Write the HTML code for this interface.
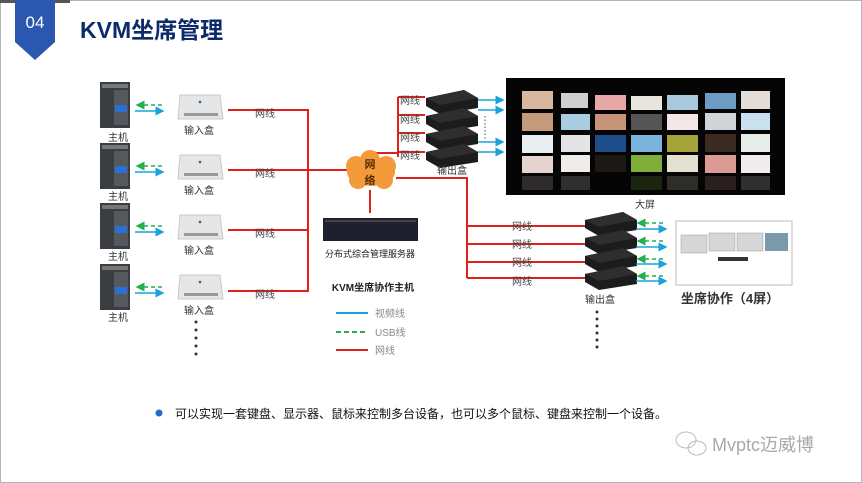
<!DOCTYPE html>
<html><head><meta charset="utf-8"><style>
html,body{margin:0;padding:0;background:#fff;width:862px;height:483px;overflow:hidden}
svg{display:block}
text{font-family:"Liberation Sans","Noto Sans CJK SC",sans-serif}
</style></head><body>
<svg width="862" height="483" viewBox="0 0 862 483" xmlns="http://www.w3.org/2000/svg">
<defs>
<marker id="ab" markerWidth="6" markerHeight="6" refX="5" refY="3" orient="auto"><path d="M0,0L6,3L0,6z" fill="#1aa3db"/></marker>
<marker id="ag" markerWidth="6" markerHeight="6" refX="1" refY="3" orient="auto"><path d="M6,0L0,3L6,6z" fill="#22b14c"/></marker>
<g id="host"><rect x="0" y="0" width="30" height="46" fill="#3a3d42"/><rect x="2" y="2" width="26" height="4" fill="#777"/><rect x="14" y="8" width="14" height="35" fill="#55595e"/><rect x="15" y="23" width="12" height="7" fill="#2a6fd6"/></g>
<g id="inbox"><path d="M2,2h40l3,24h-45z" fill="#e4e6e8" stroke="#c8cacc"/><rect x="6" y="20" width="34" height="3" fill="#999"/><circle cx="22" cy="9" r="1.3" fill="#555"/></g>
<g id="obox"><path d="M0,8L38,0L52,8L52,18L14,24L0,16z" fill="#1c1c1c"/><path d="M0,8L38,0L52,8L14,15z" fill="#2e2e2e"/></g>
</defs>
<rect x="0.5" y="0.5" width="861" height="482" fill="none" stroke="#b4b4b4"/>
<rect x="0" y="0" width="70" height="3" fill="#555"/>
<path d="M15,0H55V42L35,60L15,42z" fill="#2b57b0"/>
<text x="35" y="28" font-size="17" fill="#fff" text-anchor="middle">04</text>
<text x="80" y="38" font-size="23" font-weight="bold" fill="#0d2b6b">KVM坐席管理</text>

<g font-size="10" fill="#333" text-anchor="middle">
<use href="#host" x="100" y="82"/><use href="#host" x="100" y="143"/><use href="#host" x="100" y="203"/><use href="#host" x="100" y="264"/>
<text x="118" y="141">主机</text><text x="118" y="200">主机</text><text x="118" y="260">主机</text><text x="118" y="321">主机</text>
<use href="#inbox" x="178" y="93"/><use href="#inbox" x="178" y="153"/><use href="#inbox" x="178" y="213"/><use href="#inbox" x="178" y="273"/>
<text x="199" y="134">输入盒</text><text x="199" y="194">输入盒</text><text x="199" y="254">输入盒</text><text x="199" y="314">输入盒</text>
</g>
<g stroke-width="1.5">
<g stroke="#22b14c" stroke-dasharray="4,3" marker-start="url(#ag)"><line x1="137" y1="105" x2="163" y2="105"/><line x1="137" y1="166" x2="163" y2="166"/><line x1="137" y1="226" x2="163" y2="226"/><line x1="137" y1="287" x2="163" y2="287"/></g>
<g stroke="#1aa3db" marker-end="url(#ab)"><line x1="135" y1="111" x2="163" y2="111"/><line x1="135" y1="172" x2="163" y2="172"/><line x1="135" y1="232" x2="163" y2="232"/><line x1="135" y1="293" x2="163" y2="293"/></g>
</g>
<g fill="#333"><circle cx="196" cy="322" r="1.5"/><circle cx="196" cy="330" r="1.5"/><circle cx="196" cy="338" r="1.5"/><circle cx="196" cy="346" r="1.5"/><circle cx="196" cy="354" r="1.5"/></g>

<g stroke="#e0201b" stroke-width="2" fill="none">
<path d="M228,110H308V291H228M228,230H308M228,170H350"/>
<path d="M370,190V213M370,157V153H398M398,97V157M398,97H425M398,115H425M398,133H425M398,152H425"/>
<path d="M396,178H467V278M467,226H585M467,244H585M467,262H585M467,278H585"/>
<line x1="336" y1="350" x2="368" y2="350"/>
</g>
<g font-size="10" fill="#444">
<text x="255" y="117">网线</text><text x="255" y="177">网线</text><text x="255" y="237">网线</text><text x="255" y="298">网线</text>
<text x="400" y="104">网线</text><text x="400" y="123">网线</text><text x="400" y="141">网线</text><text x="400" y="159">网线</text>
<text x="512" y="230">网线</text><text x="512" y="248">网线</text><text x="512" y="266">网线</text><text x="512" y="285">网线</text>
</g>
<g fill="#f39a3a"><ellipse cx="371" cy="172" rx="24" ry="14"/><circle cx="356" cy="166" r="10"/><circle cx="370" cy="160" r="10"/><circle cx="386" cy="166" r="10"/><circle cx="358" cy="180" r="9"/><circle cx="384" cy="180" r="9"/></g>
<text x="370" y="168" font-size="11" font-weight="bold" fill="#5a2d00" text-anchor="middle">网</text>
<text x="370" y="184" font-size="11" font-weight="bold" fill="#5a2d00" text-anchor="middle">络</text>
<rect x="323" y="218" width="95" height="23" fill="#1e2030"/><rect x="325" y="220" width="91" height="2" fill="#444"/>
<text x="370" y="257" font-size="9" fill="#222" text-anchor="middle">分布式综合管理服务器</text>
<text x="373" y="291" font-size="10" font-weight="bold" fill="#222" text-anchor="middle">KVM坐席协作主机</text>
<line x1="336" y1="313" x2="368" y2="313" stroke="#1aa3db" stroke-width="2"/>
<line x1="336" y1="332" x2="368" y2="332" stroke="#22b14c" stroke-width="2" stroke-dasharray="5,3"/>
<g font-size="10" fill="#888"><text x="375" y="317">视频线</text><text x="375" y="336">USB线</text><text x="375" y="354">网线</text></g>

<use href="#obox" x="426" y="90"/><use href="#obox" x="426" y="108"/><use href="#obox" x="426" y="126"/><use href="#obox" x="426" y="144"/>
<text x="452" y="174" font-size="10" fill="#333" text-anchor="middle">输出盒</text>
<g stroke="#1aa3db" stroke-width="1.5" marker-end="url(#ab)"><line x1="478" y1="100" x2="503" y2="100"/><line x1="478" y1="110" x2="503" y2="110"/><line x1="478" y1="142" x2="503" y2="142"/><line x1="478" y1="152" x2="503" y2="152"/></g>
<line x1="485" y1="116" x2="485" y2="140" stroke="#555" stroke-dasharray="1.5,2"/>
<rect x="506" y="78" width="279" height="117" fill="#050505"/>
<g>
<rect x="522" y="91" width="31" height="18" fill="#d9b79e"/><rect x="561" y="93" width="27" height="15" fill="#cfcfcf"/><rect x="595" y="95" width="31" height="15" fill="#e8a7a7"/><rect x="631" y="96" width="31" height="14" fill="#e8e4de"/><rect x="667" y="95" width="31" height="15" fill="#a8c8dc"/><rect x="705" y="93" width="31" height="16" fill="#6e9bc4"/><rect x="741" y="91" width="29" height="18" fill="#e4dcd6"/>
<rect x="522" y="113" width="31" height="18" fill="#c49a7a"/><rect x="561" y="114" width="29" height="16" fill="#a9cde0"/><rect x="595" y="114" width="31" height="16" fill="#c89478"/><rect x="631" y="114" width="31" height="16" fill="#555"/><rect x="667" y="114" width="31" height="16" fill="#f2e6e6"/><rect x="705" y="113" width="31" height="17" fill="#d0d4d8"/><rect x="741" y="113" width="29" height="17" fill="#c9e0ee"/>
<rect x="522" y="135" width="31" height="18" fill="#e8eef2"/><rect x="561" y="135" width="29" height="17" fill="#e4e4e4"/><rect x="595" y="135" width="31" height="17" fill="#1d4e8a"/><rect x="631" y="135" width="31" height="17" fill="#7ab4dc"/><rect x="667" y="135" width="31" height="17" fill="#a4a43a"/><rect x="705" y="134" width="31" height="18" fill="#3a2a22"/><rect x="741" y="134" width="29" height="18" fill="#e6ece8"/>
<rect x="522" y="156" width="31" height="17" fill="#e6d4d0"/><rect x="561" y="155" width="29" height="17" fill="#f0ece8"/><rect x="595" y="155" width="31" height="17" fill="#1e1814"/><rect x="631" y="155" width="31" height="17" fill="#7fae3a"/><rect x="667" y="155" width="31" height="17" fill="#e4e0d0"/><rect x="705" y="155" width="31" height="18" fill="#dc9a94"/><rect x="741" y="155" width="29" height="18" fill="#f0ecec"/>
</g>
<g opacity="0.18"><rect x="522" y="176" width="31" height="14" fill="#e6d4d0"/><rect x="561" y="176" width="29" height="14" fill="#f0ece8"/><rect x="631" y="176" width="31" height="14" fill="#7fae3a"/><rect x="667" y="176" width="31" height="14" fill="#e4e0d0"/><rect x="705" y="176" width="31" height="14" fill="#dc9a94"/><rect x="741" y="176" width="29" height="14" fill="#f0ecec"/></g>
<text x="645" y="208" font-size="10" fill="#333" text-anchor="middle">大屏</text>

<use href="#obox" x="585" y="212"/><use href="#obox" x="585" y="230"/><use href="#obox" x="585" y="248"/><use href="#obox" x="585" y="266"/>
<text x="600" y="303" font-size="10" fill="#333" text-anchor="middle">输出盒</text>
<g fill="#333"><circle cx="597" cy="312" r="1.5"/><circle cx="597" cy="319" r="1.5"/><circle cx="597" cy="326" r="1.5"/><circle cx="597" cy="333" r="1.5"/><circle cx="597" cy="340" r="1.5"/><circle cx="597" cy="347" r="1.5"/></g>
<g stroke-width="1.5">
<g stroke="#22b14c" stroke-dasharray="4,3" marker-start="url(#ag)"><line x1="638" y1="223" x2="666" y2="223"/><line x1="638" y1="241" x2="666" y2="241"/><line x1="638" y1="259" x2="666" y2="259"/><line x1="638" y1="276" x2="666" y2="276"/></g>
<g stroke="#1aa3db" marker-end="url(#ab)"><line x1="636" y1="229" x2="666" y2="229"/><line x1="636" y1="247" x2="666" y2="247"/><line x1="636" y1="264" x2="666" y2="264"/><line x1="636" y1="281" x2="666" y2="281"/></g>
</g>
<rect x="676" y="221" width="116" height="64" fill="#fff" stroke="#bdbdbd"/>
<g fill="#d4d6d8" stroke="#999" stroke-width="0.5"><rect x="681" y="235" width="26" height="18"/><rect x="709" y="233" width="26" height="18"/><rect x="737" y="233" width="26" height="18"/></g>
<rect x="765" y="233" width="23" height="18" fill="#7a9aac"/>
<rect x="718" y="257" width="30" height="4" fill="#333"/>
<text x="730" y="303" font-size="13" font-weight="bold" fill="#333" text-anchor="middle">坐席协作（4屏）</text>

<circle cx="159" cy="413" r="3.5" fill="#1c6fc4"/>
<text x="175" y="418" font-size="12" fill="#111">可以实现一套键盘、显示器、鼠标来控制多台设备，也可以多个鼠标、键盘来控制一个设备。</text>
<g fill="none" stroke="#bbb" stroke-width="1"><ellipse cx="686" cy="440" rx="10" ry="8"/><ellipse cx="697" cy="448" rx="9" ry="7"/></g>
<text x="712" y="451" font-size="18" fill="#aaa">Mvptc迈威博</text>
</svg>
</body></html>
